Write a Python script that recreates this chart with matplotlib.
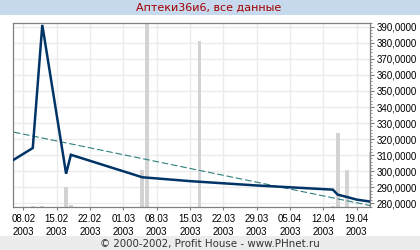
import matplotlib
matplotlib.use("Agg")
import matplotlib.pyplot as plt
import matplotlib.dates as mdates
from matplotlib.ticker import MultipleLocator, FuncFormatter
from matplotlib.patches import Rectangle
from datetime import datetime

# ---- data ----
price_dates = ["2003-02-06", "2003-02-10", "2003-02-12", "2003-02-17", "2003-02-18",
               "2003-03-05", "2003-03-15", "2003-03-29", "2003-04-14", "2003-04-15",
               "2003-04-17", "2003-04-19", "2003-04-22"]
price_values = [307.2, 314.5, 391.1, 298.5, 310.3,
                296.3, 293.9, 291.2, 288.6, 285.5,
                284.0, 282.4, 281.1]

trend_dates = ["2003-02-06", "2003-04-22"]
trend_values = [324.4, 278.6]

volume_dates = ["2003-02-10", "2003-02-12", "2003-02-17", "2003-02-18", "2003-03-05",
                "2003-03-06", "2003-03-17", "2003-04-14", "2003-04-15", "2003-04-17",
                "2003-04-22"]
# volume shown as share of plot height
volume_share = [0.006, 0.006, 0.107, 0.011, 0.201,
                1.20, 0.902, 0.008, 0.404, 0.201, 0.297]

tick_dates = ["2003-02-08", "2003-02-15", "2003-02-22", "2003-03-01", "2003-03-08",
              "2003-03-15", "2003-03-22", "2003-03-29", "2003-04-05", "2003-04-12",
              "2003-04-19"]

title = "Аптеки36и6, все данные"
footer = "© 2000-2002, Profit House - www.PHnet.ru"

def d(s):
    return datetime.strptime(s, "%Y-%m-%d")

pd_ = [d(s) for s in price_dates]
td_ = [d(s) for s in trend_dates]
vd_ = [d(s) for s in volume_dates]
tk_ = [d(s) for s in tick_dates]

W, H = 420, 250
fig = plt.figure(figsize=(W / 100, H / 100), dpi=100)
fig.patch.set_facecolor("white")

# header / footer bands
fig.patches.append(Rectangle((0, 1 - 15 / H), 1, 15 / H, transform=fig.transFigure,
                             facecolor="#c6d9ed", edgecolor="none", zorder=0))
fig.patches.append(Rectangle((0, 0), 1, 14 / H, transform=fig.transFigure,
                             facecolor="#ececec", edgecolor="none", zorder=0))
fig.text(209 / W, 1 - 8 / H, title, ha="center", va="center", color="#a00000",
         fontsize=8, family="DejaVu Sans")
fig.text(210 / W, 1 - 243.5 / H, footer, ha="center", va="center", color="#333333",
         fontsize=7.4, family="DejaVu Sans")

left, right, top, bottom = 13, 370, 23, 207
ax = fig.add_axes([left / W, 1 - bottom / H, (right - left) / W, (bottom - top) / H])
ax.set_axisbelow(True)

ax.bar(vd_, volume_share, width=0.8, bottom=0, color="#d3d3d3",
       transform=ax.get_xaxis_transform(), zorder=1)
ax.plot(td_, trend_values, color="#2e8080", lw=0.8, dashes=(6, 2.5), zorder=2)
ax.plot(pd_, price_values, color="#003366", lw=1.8, zorder=3,
        solid_joinstyle="miter")

ax.set_xlim(mdates.date2num(d("2003-02-08")) - 2.15, mdates.date2num(d("2003-04-19")) + 2.8)
ax.set_ylim(277.8, 392.3)

ax.set_xticks(tk_)
ax.xaxis.set_major_formatter(mdates.DateFormatter("%d.%m\n%Y"))
ax.yaxis.set_major_locator(MultipleLocator(10))
ax.yaxis.set_minor_locator(MultipleLocator(2))
ax.yaxis.set_major_formatter(FuncFormatter(lambda v, p: f"{v:,.4f}".replace(",", " ").replace(".", ",").replace(" ", ",")))
ax.yaxis.tick_right()

tick_font = ["Liberation Sans Narrow", "Liberation Sans"]
for lab in ax.get_xticklabels() + ax.get_yticklabels():
    lab.set_family("Liberation Sans")
    lab.set_fontsize(7)
ax.tick_params(axis="y", which="major", length=3, width=0.8, color="#808080", pad=2)
ax.tick_params(axis="y", which="minor", length=1.5, width=0.6, color="#808080")
ax.tick_params(axis="x", which="major", length=2, width=0.8, color="#808080", pad=3)
for lab in ax.get_xticklabels():
    lab.set_linespacing(1.35)

ax.grid(True, color="#ebebeb", lw=1)
for s in ax.spines.values():
    s.set_color("#808080")
    s.set_linewidth(0.9)

fig.savefig("out.png", dpi=100)
